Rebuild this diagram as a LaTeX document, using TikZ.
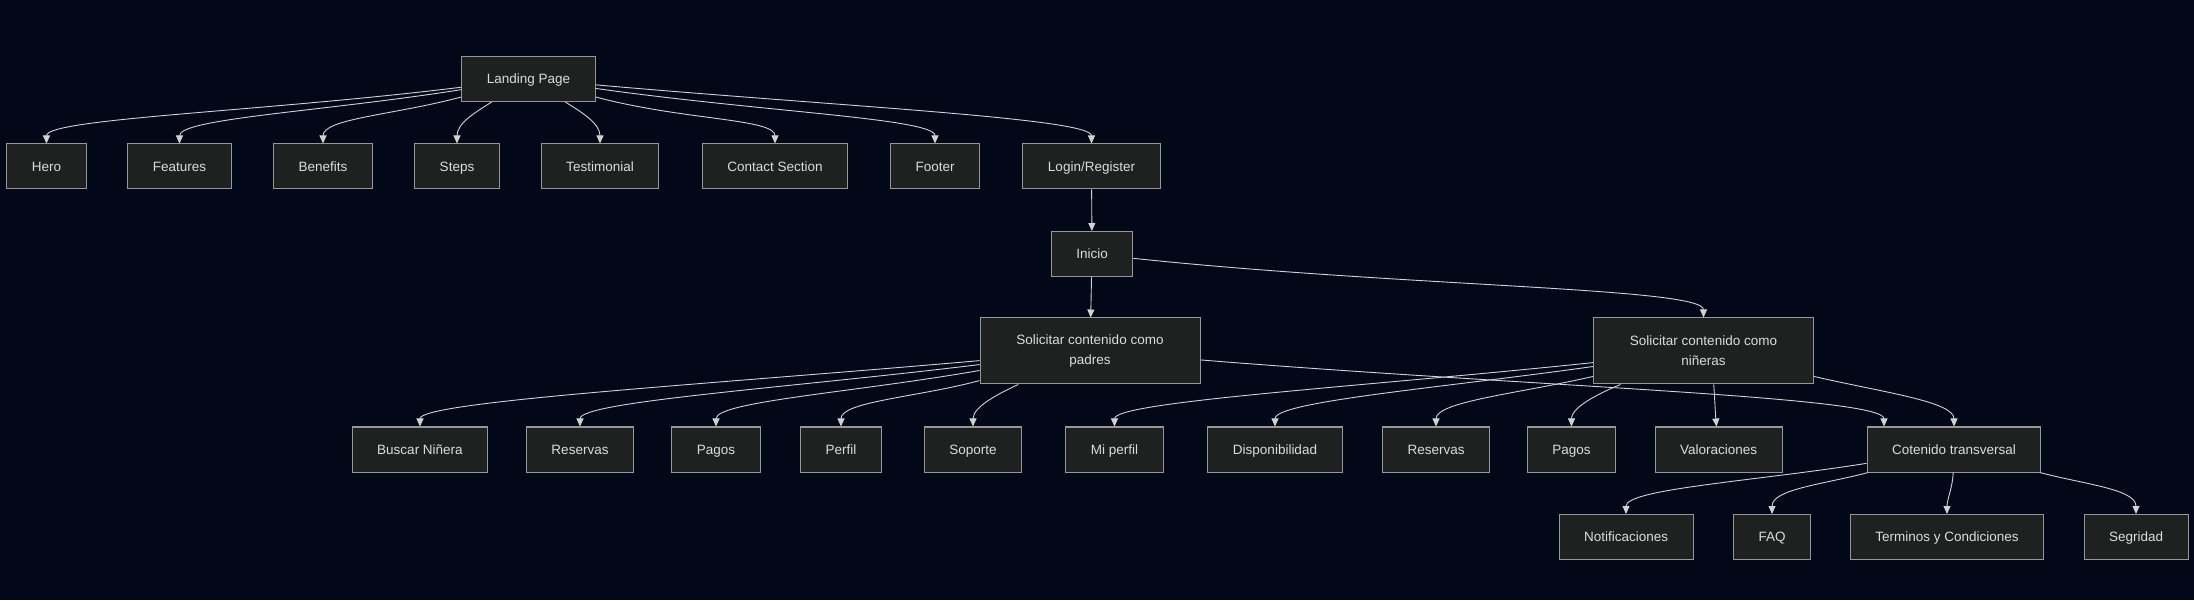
\documentclass[tikz,border=0pt]{standalone}
\usepackage{fontspec}
\setmainfont{Liberation Sans}
\usetikzlibrary{arrows.meta}

\definecolor{bgnavy}{RGB}{2,8,23}
\definecolor{boxfill}{RGB}{31,32,32}
\definecolor{boxline}{RGB}{150,150,150}
\definecolor{linkcol}{RGB}{210,210,210}
\definecolor{labelcol}{RGB}{220,220,220}

\begin{document}
\begin{tikzpicture}[x=1pt, y=1pt,
    boxbase/.style={draw=boxline, fill=boxfill, text=labelcol, line width=1pt, inner xsep=25pt, font=\fontsize{13.5}{20}\selectfont},
    box/.style={boxbase, minimum height=45pt, text height=12pt, text depth=2.3pt},
    bigbox/.style={boxbase, minimum width=220pt, minimum height=66pt, align=center},
    link/.style={draw=linkcol, line width=0.9pt, -{Triangle[length=8pt,width=7pt]}},
    bend/.style 2 args={out=#1, in=90, out distance=#2, in distance=25pt}]

    \fill [bgnavy] (0,0) rectangle (2194,600) ;

    \node [box] (lp) at (528.5,521) {Landing Page} ;
    \node [box] (hero) at (46.5,433.5) {Hero} ;
    \node [box] (feat) at (179.5,433.5) {Features} ;
    \node [box] (bene) at (323,433.5) {Benefits} ;
    \node [box] (steps) at (457,433.5) {Steps} ;
    \node [box] (testi) at (600,433.5) {Testimonial} ;
    \node [box] (contact) at (775,433.5) {Contact Section} ;
    \node [box] (footer) at (935,433.5) {Footer} ;
    \node [box] (login) at (1091.5,433.5) {Login/Register} ;

    \node [box] (ini) at (1092,346) {Inicio} ;
    \node [bigbox] (pad) at (1090,249) {Solicitar contenido como\\padres} ;
    \node [bigbox] (nin) at (1703.5,249) {Solicitar contenido como\\niñeras} ;

    \node [box] (buscar) at (420,150.5) {Buscar Niñera} ;
    \node [box] (resp) at (580,150.5) {Reservas} ;
    \node [box] (pagp) at (716,150.5) {Pagos} ;
    \node [box] (perfil) at (841,150.5) {Perfil} ;
    \node [box] (soporte) at (973,150.5) {Soporte} ;
    \node [box] (miperfil) at (1114.5,150.5) {Mi perfil} ;
    \node [box] (dispo) at (1275,150.5) {Disponibilidad} ;
    \node [box] (resn) at (1436,150.5) {Reservas} ;
    \node [box] (pagn) at (1571.5,150.5) {Pagos} ;
    \node [box] (valo) at (1718.5,150.5) {Valoraciones} ;
    \node [box] (cot) at (1954,150.5) {Cotenido transversal} ;

    \node [box] (notif) at (1626,63) {Notificaciones} ;
    \node [box] (faq) at (1772,63) {FAQ} ;
    \node [box] (term) at (1947,63) {Terminos y Condiciones} ;
    \node [box] (segr) at (2136,63) {Segridad} ;

    \draw [link] (lp) to[bend={187}{200pt}] (hero) ;
    \draw [link] (lp) to[bend={189}{140pt}] (feat) ;
    \draw [link] (lp) to[bend={195}{70pt}] (bene) ;
    \draw [link] (lp) to[out=212, in=90, out distance=20pt, in distance=20pt] (steps) ;
    \draw [link] (lp) to[out=328, in=90, out distance=20pt, in distance=20pt] (testi) ;
    \draw [link] (lp) to[bend={345}{90pt}] (contact) ;
    \draw [link] (lp) to[bend={352}{170pt}] (footer) ;
    \draw [link] (lp) to[bend={355}{250pt}] (login) ;

    \draw [link] (login) -- (ini) ;
    \draw [link] (ini) -- (pad) ;
    \draw [link] (ini) to[out=354, in=90, out distance=275pt, in distance=30pt] (nin) ;

    \draw [link] (pad) to[bend={185}{270pt}] (buscar) ;
    \draw [link] (pad) to[bend={187}{190pt}] (resp) ;
    \draw [link] (pad) to[bend={190}{125pt}] (pagp) ;
    \draw [link] (pad) to[bend={195}{65pt}] (perfil) ;
    \draw [link] (pad) to[out=205, in=90, out distance=20pt, in distance=20pt] (soporte) ;
    \draw [link] (pad) to[out=355.5, in=90, out distance=330pt, in distance=30pt] ([xshift=-70pt]cot.north) ;

    \draw [link] (nin) to[bend={186}{230pt}] (miperfil) ;
    \draw [link] (nin) to[bend={188}{155pt}] (dispo) ;
    \draw [link] (nin) to[bend={193}{75pt}] (resn) ;
    \draw [link] (nin) to[out=202, in=90, out distance=20pt, in distance=20pt] (pagn) ;
    \draw [link] (nin.287) to[out=-86, in=95, out distance=15pt, in distance=15pt] (valo) ;
    \draw [link] (nin) to[bend={347}{70pt}] (cot) ;

    \draw [link] (cot) to[bend={189}{115pt}] (notif) ;
    \draw [link] (cot) to[bend={195}{45pt}] (faq) ;
    \draw [link] (cot) to[out=268, in=90, out distance=15pt, in distance=15pt] (term) ;
    \draw [link] (cot) to[bend={345}{45pt}] (segr) ;
\end{tikzpicture}
\end{document}
